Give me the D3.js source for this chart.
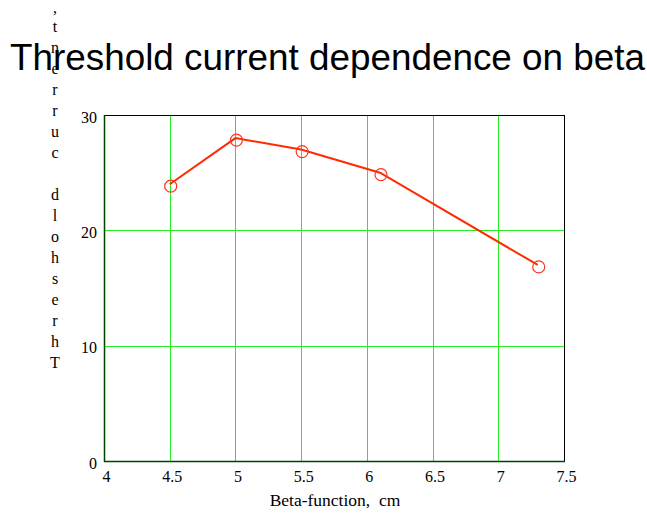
<!DOCTYPE html>
<html>
<head>
<meta charset="utf-8">
<script src="https://cdn.jsdelivr.net/npm/d3@7"></script>
<style>
  html, body { margin: 0; padding: 0; background: #fff; }
  svg { display: block; }
</style>
</head>
<body>
<svg id="chart" width="647" height="516"></svg>
<script>
// Threshold current vs. beta-function
const betaValues = [4.5, 5, 5.5, 6.1, 7.3];
const thresholdCurrent = [24, 28, 27, 25, 17];
const xTicks = [4, 4.5, 5, 5.5, 6, 6.5, 7, 7.5];
const yTicks = [0, 10, 20, 30];
const titleText = "Threshold current dependence on beta";
const xLabel = "Beta-function,  cm";
const yLabel = "Threshold current,";

const svg = d3.select("#chart");
const margin = { left: 104, right: 83, top: 115, bottom: 55 };
const W = 647, H = 516;

const x = d3.scaleLinear().domain([4, 7.5]).range([margin.left, W - margin.right]);
const y = d3.scaleLinear().domain([0, 30]).range([H - margin.bottom, margin.top]);

const serif = "'Liberation Serif', 'Times New Roman', serif";

// grid
const grid = svg.append("g");
grid.selectAll("line.vx").data(xTicks.slice(1, -1)).join("line")
  .attr("x1", d => Math.round(x(d)) + 0.5).attr("x2", d => Math.round(x(d)) + 0.5)
  .attr("y1", y(30)).attr("y2", y(0))
  .attr("stroke", "#22ee22").attr("stroke-width", 1);
grid.selectAll("line.hy").data(yTicks.slice(1, -1)).join("line")
  .attr("y1", d => Math.round(y(d)) + 0.5).attr("y2", d => Math.round(y(d)) + 0.5)
  .attr("x1", x(4)).attr("x2", x(7.5))
  .attr("stroke", "#22ee22").attr("stroke-width", 1);

// frame
svg.append("rect")
  .attr("x", x(4) + 0.5).attr("y", y(30) + 0.5)
  .attr("width", x(7.5) - x(4)).attr("height", y(0) - y(30))
  .attr("fill", "none").attr("stroke", "#000").attr("stroke-width", 1);
// left and bottom axes
svg.append("line").attr("x1", x(4) + 0.5).attr("x2", x(4) + 0.5)
  .attr("y1", y(30)).attr("y2", y(0) + 1).attr("stroke", "#004400").attr("stroke-width", 1.5);
svg.append("line").attr("x1", x(4)).attr("x2", x(7.5) + 1)
  .attr("y1", y(0) + 0.5).attr("y2", y(0) + 0.5).attr("stroke", "#004400").attr("stroke-width", 1.5);

// tick labels via d3 axes, domain lines removed
const xAxis = d3.axisBottom(x).tickValues(xTicks).tickSize(0).tickPadding(10)
  .tickFormat(d => String(d));
const gx = svg.append("g").attr("transform", `translate(0,${y(0)})`).call(xAxis);
gx.select(".domain").remove();
gx.selectAll("text").attr("font-family", serif).attr("font-size", 16).attr("fill", "#000")
  .attr("dx", 2);

const yAxis = d3.axisLeft(y).tickValues(yTicks).tickSize(0).tickPadding(7)
  .tickFormat(d => String(d));
const gy = svg.append("g").attr("transform", `translate(${x(4)},0)`).call(yAxis);
gy.select(".domain").remove();
gy.selectAll("text").attr("font-family", serif).attr("font-size", 16).attr("fill", "#000")
  .attr("dy", "0.45em");

// data line
const pts = betaValues.map((b, i) => [b, thresholdCurrent[i]]);
svg.append("path")
  .datum(pts)
  .attr("d", d3.line().x(d => x(d[0])).y(d => y(d[1])))
  .attr("fill", "none").attr("stroke", "#ff2a00").attr("stroke-width", 2);

svg.selectAll("circle.pt").data(pts).join("circle")
  .attr("cx", d => x(d[0]) + 1).attr("cy", d => y(d[1]) + 2)
  .attr("r", 6)
  .attr("fill", "none").attr("stroke", "#ff3322").attr("stroke-width", 1.2);

// x label
svg.append("text")
  .attr("x", 335).attr("y", 506)
  .attr("text-anchor", "middle")
  .attr("font-family", serif).attr("font-size", 17.5)
  .style("white-space", "pre")
  .text(xLabel);

// y label: stacked characters, read bottom to top
const chars = Array.from(yLabel);
svg.append("g").selectAll("text").data(chars).join("text")
  .attr("x", 55)
  .attr("y", (d, i) => 368 - i * 21 + (d === "," ? 2 : 0))
  .attr("text-anchor", "middle")
  .attr("font-family", serif).attr("font-size", 16)
  .text(d => d);

// title
const title = svg.append("text")
  .attr("x", 10).attr("y", 70)
  .attr("font-family", "'Liberation Sans', Arial, sans-serif")
  .attr("font-size", 37)
  .attr("fill", "#000")
  .text(titleText);
title.attr("textLength", 635).attr("lengthAdjust", "spacingAndGlyphs");
</script>
</body>
</html>
